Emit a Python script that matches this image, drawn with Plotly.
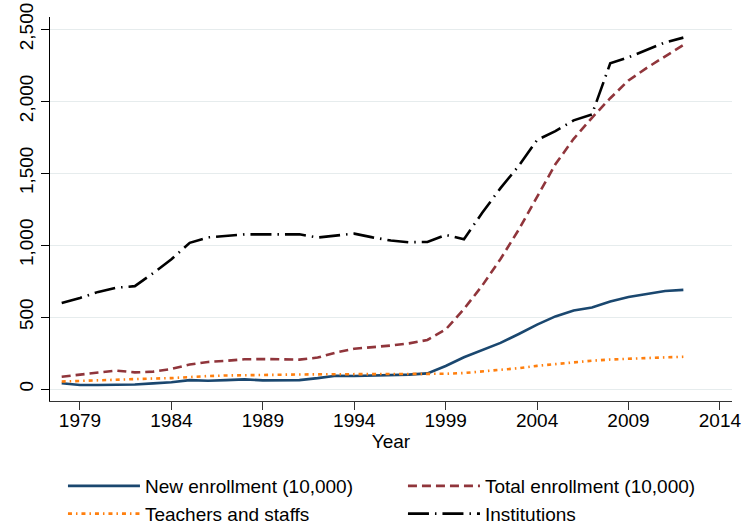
import plotly.graph_objects as go

# Higher education in China, 1978-2012
years = list(range(1978, 2013))

new_enrollment = [40.2, 27.5, 28.1, 27.9, 31.5, 39.1, 47.5, 61.9, 57.2, 61.7,
                  67.0, 59.7, 60.9, 62.0, 75.4, 92.4, 90.0, 92.6, 96.6, 100.0,
                  108.4, 159.7, 220.6, 268.3, 320.5, 382.2, 447.3, 504.5, 546.1, 565.9,
                  607.7, 639.5, 661.8, 681.5, 688.8]

total_enrollment = [85.6, 102.0, 114.4, 127.9, 115.4, 120.7, 139.6, 170.3, 188.0, 195.9,
                    206.6, 208.2, 206.3, 204.4, 218.4, 253.6, 279.9, 290.6, 302.1, 317.4,
                    340.9, 413.4, 556.1, 719.1, 903.4, 1108.6, 1333.5, 1561.8, 1738.8, 1884.9,
                    2021.0, 2144.7, 2231.8, 2308.5, 2391.3]

teachers_staffs = [52, 57, 62, 66, 70, 73, 76, 85, 90, 94,
                   97, 99, 100, 101, 102, 102, 103, 104, 104, 104,
                   103, 106, 111, 121, 131, 145, 161, 174, 187, 197,
                   205, 212, 215, 220, 224]

institutions = [598, 633, 675, 704, 715, 805, 902, 1016, 1054, 1063,
                1075, 1075, 1075, 1075, 1053, 1065, 1080, 1054, 1032, 1020,
                1022, 1071, 1041, 1225, 1396, 1552, 1731, 1792, 1867, 1908,
                2263, 2305, 2358, 2409, 2442]

x_ticks = list(range(1979, 2015, 5))
y_ticks = [0, 500, 1000, 1500, 2000, 2500]

FONT = "Liberation Sans, Arial, Helvetica, sans-serif"

fig = go.Figure()
fig.add_trace(go.Scatter(
    x=years, y=new_enrollment, mode="lines", name="New enrollment (10,000)",
    line=dict(color="#1a476f", width=2.6, dash="solid")))
fig.add_trace(go.Scatter(
    x=years, y=total_enrollment, mode="lines", name="Total enrollment (10,000)",
    line=dict(color="#90353b", width=2.6, dash="9px,5px")))
fig.add_trace(go.Scatter(
    x=years, y=teachers_staffs, mode="lines", name="Teachers and staffs",
    line=dict(color="#ff7f0e", width=2.6, dash="4px,4px,1.5px,4px")))
fig.add_trace(go.Scatter(
    x=years, y=institutions, mode="lines", name="Institutions",
    line=dict(color="#000000", width=2.6, dash="21px,6px,1.5px,6px")))

fig.update_layout(
    width=745, height=529,
    margin=dict(l=50, r=13, t=17, b=128, autoexpand=False),
    paper_bgcolor="white", plot_bgcolor="white",
    font=dict(family=FONT, size=19, color="#000000"),
    showlegend=True,
    legend=dict(
        orientation="h", x=0.019, xanchor="left", y=-0.172, yanchor="top",
        entrywidth=253, entrywidthmode="pixels", itemwidth=72,
        font=dict(family=FONT, size=19, color="#000000"),
        bgcolor="rgba(0,0,0,0)", tracegroupgap=0,
    ),
    xaxis=dict(
        range=[1977.36, 2014.66], tickmode="array", tickvals=x_ticks,
        ticktext=[str(v) for v in x_ticks],
        ticks="outside", ticklen=8, tickwidth=1.2, tickcolor="#333333",
        ticklabelstandoff=-6,
        showline=True, linecolor="#333333", linewidth=1.2,
        showgrid=False, zeroline=False,
        title=dict(text="Year", standoff=4, font=dict(size=19)),
        tickfont=dict(size=19),
    ),
    yaxis=dict(
        range=[-83.3, 2585.4], tickmode="array", tickvals=y_ticks,
        tickformat=",d", tickangle=-90,
        ticks="outside", ticklen=8, tickwidth=1.2, tickcolor="#000000",
        showline=True, linecolor="#000000", linewidth=1.2,
        showgrid=True, gridcolor="#e6eced", gridwidth=1.2, zeroline=False,
        tickfont=dict(size=19),
    ),
)

fig.write_html("out.html")
